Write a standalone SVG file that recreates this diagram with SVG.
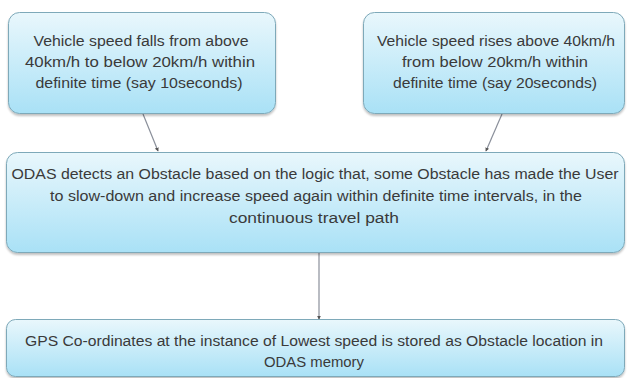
<svg xmlns="http://www.w3.org/2000/svg" width="629" height="378" viewBox="0 0 629 378">
<defs>
<linearGradient id="g" x1="0" y1="0" x2="0" y2="1">
<stop offset="0" stop-color="#e9f7fc"/>
<stop offset="1" stop-color="#a9e1f6"/>
</linearGradient>
<marker id="ah" viewBox="0 0 6 6" refX="5" refY="3" markerWidth="4" markerHeight="4" orient="auto" markerUnits="userSpaceOnUse">
<path d="M0,0 L6,3 L0,6 z" fill="#555"/>
</marker>
<filter id="sh" x="-5%" y="-5%" width="110%" height="120%">
<feGaussianBlur in="SourceAlpha" stdDeviation="1.2"/>
<feOffset dx="0" dy="1.5"/>
<feComponentTransfer><feFuncA type="linear" slope="0.25"/></feComponentTransfer>
<feMerge><feMergeNode/><feMergeNode in="SourceGraphic"/></feMerge>
</filter>
</defs>
<style>
.box{fill:url(#g);stroke:#7ea9b9;stroke-width:1;filter:url(#sh)}
.t{font-family:"Liberation Sans",Arial,sans-serif;font-size:14px;fill:#3a3a3a;text-anchor:middle}
.c{stroke:#8a8f9a;stroke-width:1.2;fill:none;marker-end:url(#ah)}
</style>
<rect width="629" height="378" fill="#ffffff"/>
<g id="connectors">
<line class="c" x1="143" y1="114" x2="158" y2="151"/>
<line class="c" x1="502" y1="114" x2="486" y2="151"/>
<line class="c" x1="319" y1="253" x2="319" y2="319"/>
</g>
<g id="node1">
<rect class="box" x="8.5" y="12.5" width="267" height="101" rx="11"/>
<text class="t" x="141" y="46" textLength="215" lengthAdjust="spacingAndGlyphs">Vehicle speed falls from above</text>
<text class="t" x="140" y="67" textLength="230" lengthAdjust="spacingAndGlyphs">40km/h to below 20km/h within</text>
<text class="t" x="139" y="88" textLength="207" lengthAdjust="spacingAndGlyphs">definite time (say 10seconds)</text>
</g>
<g id="node2">
<rect class="box" x="363.5" y="12.5" width="261" height="101" rx="11"/>
<text class="t" x="496" y="46" textLength="238" lengthAdjust="spacingAndGlyphs">Vehicle speed rises above 40km/h</text>
<text class="t" x="495" y="67" textLength="186" lengthAdjust="spacingAndGlyphs">from below 20km/h within</text>
<text class="t" x="495" y="88" textLength="204" lengthAdjust="spacingAndGlyphs">definite time (say 20seconds)</text>
</g>
<g id="node3">
<rect class="box" x="6.5" y="152.5" width="618" height="100" rx="11"/>
<text class="t" x="315" y="179" textLength="607" lengthAdjust="spacingAndGlyphs">ODAS detects an Obstacle based on the logic that, some Obstacle has made the User</text>
<text class="t" x="316" y="201" textLength="532" lengthAdjust="spacingAndGlyphs">to slow-down and increase speed again within definite time intervals, in the</text>
<text class="t" x="314" y="223" textLength="170" lengthAdjust="spacingAndGlyphs">continuous travel path</text>
</g>
<g id="node4">
<rect class="box" x="6.5" y="319.5" width="618" height="57" rx="9"/>
<text class="t" x="314" y="346" textLength="578" lengthAdjust="spacingAndGlyphs">GPS Co-ordinates at the instance of Lowest speed is stored as Obstacle location in</text>
<text class="t" x="314" y="367" textLength="100" lengthAdjust="spacingAndGlyphs">ODAS memory</text>
</g>
</svg>
